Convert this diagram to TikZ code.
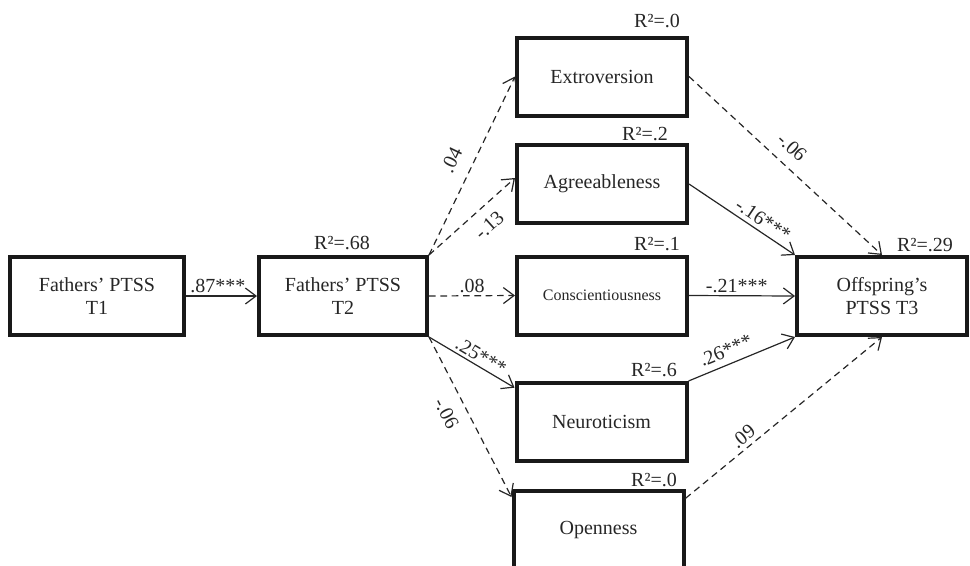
\documentclass[tikz,border=0pt]{standalone}
\usepackage{fontspec}
\setmainfont{Liberation Serif}
\usetikzlibrary{arrows.meta,calc}
\begin{document}
\begin{tikzpicture}[x=0.75pt,y=-0.75pt,
  box/.style={draw=black!90, line width=3pt, minimum height=58.5pt, inner sep=0pt, align=center,
    font=\fontsize{15}{17}\selectfont, text=black!85},
  sigarrow/.style={line width=0.9pt, draw=black!85, -{Straight Barb[length=8pt,width=12pt,line width=0.9pt]}},
  nsarrow/.style={sigarrow, dash pattern=on 5pt off 3.5pt},
  lab/.style={font=\fontsize{15}{17}\selectfont, text=black!85, inner sep=2pt},
  rsq/.style={font=\fontsize{15}{17}\selectfont, text=black!85, inner sep=0pt},
]
\useasboundingbox (0,0) rectangle (970,565);
% boxes
\node[box, minimum width=130.5pt] (t1) at (97,296) {Fathers’ PTSS\\T1};
\node[box, minimum width=126pt] (t2) at (343,296) {Fathers’ PTSS\\T2};
\node[box, minimum width=127.5pt] (ext) at (602,76.5) {Extroversion};
\node[box, minimum width=127.5pt] (agr) at (602,184) {Agreeableness};
\node[box, minimum width=127.5pt, font=\fontsize{12}{14}\selectfont] (con) at (602,295.5) {Conscientiousness};
\node[box, minimum width=127.5pt] (neu) at (601.5,422) {Neuroticism};
\node[box, minimum width=127.5pt] (opn) at (598.5,530) {Openness};
\node[box, minimum width=127.5pt] (off) at (882,296) {Offspring’s\\PTSS T3};
% R squared
\node[rsq] (r1) at (342,243) {R²=.68};
\node[rsq] (r2) at (657,21) {R²=.0};
\node[rsq] (r3) at (645,134) {R²=.2};
\node[rsq] (r4) at (657,244) {R²=.1};
\node[rsq] (r5) at (654,370) {R²=.6};
\node[rsq] (r6) at (654,480) {R²=.0};
\node[rsq] (r7) at (925,245) {R²=.29};
% paths
\draw[sigarrow] (t1.east) -- node[lab, above, pos=.45] {.87***} (t2.west);
\draw[nsarrow] (t2.north east) -- node[lab, sloped, above=8pt, pos=.48] {.04} (ext.west);
\draw[nsarrow] (t2.north east) -- node[lab, sloped, below=6pt, pos=.56] {-.13} ([yshift=4.5pt]agr.west);
\draw[nsarrow] (t2.east) -- node[lab, above, pos=.5] {.08} (con.west);
\draw[sigarrow] (t2.south east) -- node[lab, sloped, above, pos=.55] {.25***} ([yshift=-5pt]neu.north west);
\draw[nsarrow] (t2.south east) -- node[lab, sloped, below=7pt, pos=.42] {-.06} ([yshift=-6pt]opn.north west);
\draw[nsarrow] (ext.east) -- node[lab, sloped, above=6pt, pos=.47] {-.06} (off.north);
\draw[sigarrow] (agr.east) -- node[lab, sloped, above=1pt, pos=.64] {-.16***} (off.north west);
\draw[sigarrow] (con.east) -- node[lab, above, pos=.45] {-.21***} (off.west);
\draw[sigarrow] (neu.north east) -- node[lab, sloped, above=3pt, pos=.4] {.26***} (off.south west);
\draw[nsarrow] ([yshift=-7pt]opn.north east) -- node[lab, sloped, above=1pt, pos=.33] {.09} (off.south);
\end{tikzpicture}
\end{document}
